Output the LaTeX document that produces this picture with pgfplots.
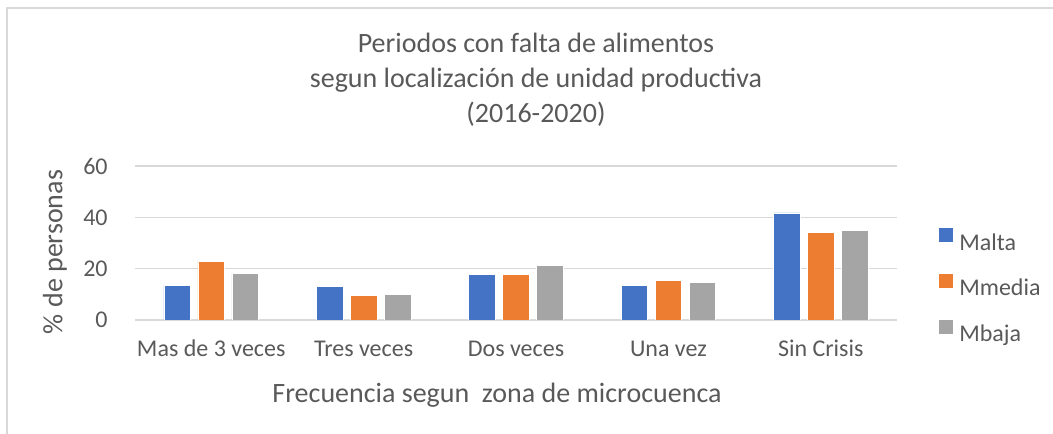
\documentclass[border=0pt]{standalone}
\usepackage{pgfplots}
\pgfplotsset{compat=1.18}
\usepackage{fontspec}
\setmainfont{Carlito}
\definecolor{cblue}{HTML}{4472C4}
\definecolor{corange}{HTML}{ED7D31}
\definecolor{cgray}{HTML}{A5A5A5}
\definecolor{cgrid}{HTML}{D9D9D9}
\definecolor{ctext}{HTML}{595959}
\definecolor{cborder}{HTML}{D9D9D9}
\begin{document}
\begin{tikzpicture}
\useasboundingbox (0pt,0pt) rectangle (526.5pt,216.5pt);
\draw[cborder, line width=1pt] (3.7pt,-5pt) -- (3.7pt,212.3pt) -- (535pt,212.3pt);
\begin{axis}[
  at={(67.5pt,56.5pt)}, anchor=south west,
  scale only axis, width=381pt, height=77pt,
  ybar=3.7pt, bar width=13.3pt,
  xmin=-0.5, xmax=4.5, ymin=0, ymax=60,
  xtick={0,1,2,3,4},
  xticklabels={Mas de 3 veces, Tres veces, Dos veces, Una vez, Sin Crisis},
  ytick={0,20,40,60},
  ymajorgrids, grid style={cgrid, line width=0.75pt},
  axis line style={draw=none},
  major tick length=0pt,
  tick label style={font=\fontsize{12}{14}\selectfont, text=ctext},
  /pgf/number format/assume math mode=true,
  xticklabel style={anchor=base, inner sep=0pt, yshift=-18.5pt},
  yticklabel style={anchor=east, inner sep=0pt, xshift=-13.5pt},
  legend style={draw=none, fill=none, at={(axis description cs:1.055,0.214)}, anchor=west,
    font=\fontsize{12}{14}\selectfont, text=ctext, inner sep=0pt,
    row sep=10pt, cells={anchor=west},
    nodes={text height=8pt, text depth=2pt, inner ysep=0pt, inner xsep=3pt}},
  legend image code/.code={\fill[#1, draw=none] (0pt,0.9pt) rectangle (7pt,7.9pt);},
]
\addplot[fill=cblue, draw=white, line width=0.4pt] coordinates {(0,13.5) (1,13.1) (2,17.8) (3,13.5) (4,41.7)};
\addplot[fill=corange, draw=white, line width=0.4pt] coordinates {(0,22.9) (1,9.6) (2,17.8) (3,15.5) (4,34.1)};
\addplot[fill=cgray, draw=white, line width=0.4pt] coordinates {(0,18.2) (1,10.0) (2,21.2) (3,14.6) (4,34.9)};
\legend{Malta, Mmedia, Mbaja}
\end{axis}
\begin{scope}[every node/.style={text=ctext, font=\fontsize{14}{17}\selectfont, anchor=base, inner sep=0pt}]
\node at (268pt,190pt) {Periodos con falta de alimentos};
\node at (268pt,172.5pt) {segun localización de unidad productiva};
\node at (268pt,155pt) {(2016-2020)};
\node at (248.5pt,15pt) {Frecuencia segun\ \ zona de microcuenca};
\node[rotate=90, anchor=center] at (27.5pt,90.5pt) {\% de personas};
\end{scope}
\end{tikzpicture}
\end{document}
